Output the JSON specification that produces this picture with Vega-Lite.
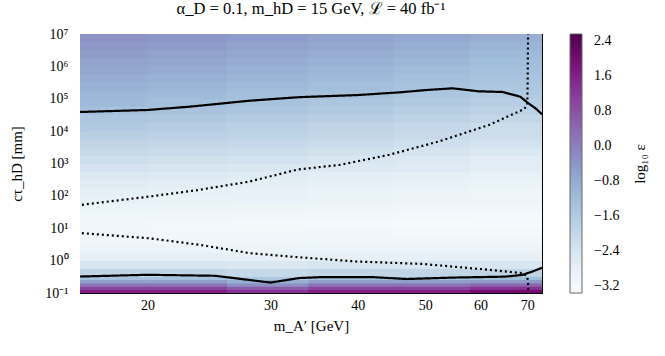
{
  "$schema": "https://vega.github.io/schema/vega-lite/v6.json",
  "width": 462,
  "height": 259,
  "autosize": {"type": "none"},
  "padding": {"left": 80, "top": 34, "right": 123, "bottom": 63},
  "background": "white",
  "title": {"text": "α_D = 0.1, m_hD = 15 GeV, ℒ = 40 fb⁻¹", "font": "Liberation Serif", "fontSize": 16.5, "fontWeight": "normal", "anchor": "middle", "offset": 10, "frame": "group", "color": "black"},
  "config": {
    "view": {"stroke": "black", "strokeWidth": 1},
    "axis": {"labelFont": "Liberation Serif", "labelFontSize": 14, "labelColor": "black", "tickColor": "black", "domainColor": "black", "titleFont": "Liberation Serif", "titleFontSize": 15, "titleFontWeight": "normal", "titleColor": "black", "grid": false, "zindex": 1, "labelOverlap": false, "labelBound": false, "labelFlush": false}
  },
  "datasets": {
    "cells": [
        {"m0":16,"m1":20,"t0":0.1,"t1":0.1259,"e":1.6},{"m0":20,"m1":26,"t0":0.1,"t1":0.1259,"e":1.6},{"m0":26,"m1":34,"t0":0.1,"t1":0.1259,"e":1.3},{"m0":34,"m1":45,"t0":0.1,"t1":0.1259,"e":1.6},{"m0":45,"m1":58,"t0":0.1,"t1":0.1259,"e":1.6},{"m0":58,"m1":73.5,"t0":0.1,"t1":0.1259,"e":2.0},
        {"m0":16,"m1":20,"t0":0.1259,"t1":0.1585,"e":1.0},{"m0":20,"m1":26,"t0":0.1259,"t1":0.1585,"e":1.0},{"m0":26,"m1":34,"t0":0.1259,"t1":0.1585,"e":0.6},{"m0":34,"m1":45,"t0":0.1259,"t1":0.1585,"e":1.0},{"m0":45,"m1":58,"t0":0.1259,"t1":0.1585,"e":1.0},{"m0":58,"m1":73.5,"t0":0.1259,"t1":0.1585,"e":1.3},
        {"m0":16,"m1":20,"t0":0.1585,"t1":0.1995,"e":0.2},{"m0":20,"m1":26,"t0":0.1585,"t1":0.1995,"e":0.2},{"m0":26,"m1":34,"t0":0.1585,"t1":0.1995,"e":-0.3},{"m0":34,"m1":45,"t0":0.1585,"t1":0.1995,"e":0.2},{"m0":45,"m1":58,"t0":0.1585,"t1":0.1995,"e":0.2},{"m0":58,"m1":73.5,"t0":0.1585,"t1":0.1995,"e":0.4},
        {"m0":16,"m1":20,"t0":0.1995,"t1":0.2512,"e":-0.6},{"m0":20,"m1":26,"t0":0.1995,"t1":0.2512,"e":-0.6},{"m0":26,"m1":34,"t0":0.1995,"t1":0.2512,"e":-0.9},{"m0":34,"m1":45,"t0":0.1995,"t1":0.2512,"e":-0.6},{"m0":45,"m1":58,"t0":0.1995,"t1":0.2512,"e":-0.6},{"m0":58,"m1":73.5,"t0":0.1995,"t1":0.2512,"e":-0.5},
        {"m0":16,"m1":20,"t0":0.2512,"t1":0.3162,"e":-1.3},{"m0":20,"m1":26,"t0":0.2512,"t1":0.3162,"e":-1.3},{"m0":26,"m1":34,"t0":0.2512,"t1":0.3162,"e":-1.5},{"m0":34,"m1":45,"t0":0.2512,"t1":0.3162,"e":-1.3},{"m0":45,"m1":58,"t0":0.2512,"t1":0.3162,"e":-1.3},{"m0":58,"m1":73.5,"t0":0.2512,"t1":0.3162,"e":-1.2},
        {"m0":16,"m1":20,"t0":0.3162,"t1":0.5623,"e":-1.95},{"m0":20,"m1":26,"t0":0.3162,"t1":0.5623,"e":-1.95},{"m0":26,"m1":34,"t0":0.3162,"t1":0.5623,"e":-2.05},{"m0":34,"m1":45,"t0":0.3162,"t1":0.5623,"e":-1.95},{"m0":45,"m1":58,"t0":0.3162,"t1":0.5623,"e":-1.95},{"m0":58,"m1":73.5,"t0":0.3162,"t1":0.5623,"e":-1.9},
        {"m0":16,"m1":20,"t0":0.5623,"t1":1,"e":-2.45},{"m0":20,"m1":26,"t0":0.5623,"t1":1,"e":-2.45},{"m0":26,"m1":34,"t0":0.5623,"t1":1,"e":-2.5},{"m0":34,"m1":45,"t0":0.5623,"t1":1,"e":-2.45},{"m0":45,"m1":58,"t0":0.5623,"t1":1,"e":-2.45},{"m0":58,"m1":73.5,"t0":0.5623,"t1":1,"e":-2.45},
        {"m0":16,"m1":20,"t0":1,"t1":1.778,"e":-2.8},{"m0":20,"m1":26,"t0":1,"t1":1.778,"e":-2.8},{"m0":26,"m1":34,"t0":1,"t1":1.778,"e":-2.8},{"m0":34,"m1":45,"t0":1,"t1":1.778,"e":-2.8},{"m0":45,"m1":58,"t0":1,"t1":1.778,"e":-2.8},{"m0":58,"m1":73.5,"t0":1,"t1":1.778,"e":-2.8},
        {"m0":16,"m1":20,"t0":1.778,"t1":3.162,"e":-3.0},{"m0":20,"m1":26,"t0":1.778,"t1":3.162,"e":-3.0},{"m0":26,"m1":34,"t0":1.778,"t1":3.162,"e":-3.0},{"m0":34,"m1":45,"t0":1.778,"t1":3.162,"e":-3.0},{"m0":45,"m1":58,"t0":1.778,"t1":3.162,"e":-3.0},{"m0":58,"m1":73.5,"t0":1.778,"t1":3.162,"e":-3.0},
        {"m0":16,"m1":20,"t0":3.162,"t1":5.623,"e":-3.12},{"m0":20,"m1":26,"t0":3.162,"t1":5.623,"e":-3.12},{"m0":26,"m1":34,"t0":3.162,"t1":5.623,"e":-3.12},{"m0":34,"m1":45,"t0":3.162,"t1":5.623,"e":-3.12},{"m0":45,"m1":58,"t0":3.162,"t1":5.623,"e":-3.12},{"m0":58,"m1":73.5,"t0":3.162,"t1":5.623,"e":-3.12},
        {"m0":16,"m1":20,"t0":5.623,"t1":10,"e":-3.18},{"m0":20,"m1":26,"t0":5.623,"t1":10,"e":-3.18},{"m0":26,"m1":34,"t0":5.623,"t1":10,"e":-3.18},{"m0":34,"m1":45,"t0":5.623,"t1":10,"e":-3.18},{"m0":45,"m1":58,"t0":5.623,"t1":10,"e":-3.2},{"m0":58,"m1":73.5,"t0":5.623,"t1":10,"e":-3.22},
        {"m0":16,"m1":20,"t0":10,"t1":17.78,"e":-3.15},{"m0":20,"m1":26,"t0":10,"t1":17.78,"e":-3.17},{"m0":26,"m1":34,"t0":10,"t1":17.78,"e":-3.2},{"m0":34,"m1":45,"t0":10,"t1":17.78,"e":-3.24},{"m0":45,"m1":58,"t0":10,"t1":17.78,"e":-3.28},{"m0":58,"m1":73.5,"t0":10,"t1":17.78,"e":-3.3},
        {"m0":16,"m1":20,"t0":17.78,"t1":31.62,"e":-3.08},{"m0":20,"m1":26,"t0":17.78,"t1":31.62,"e":-3.1},{"m0":26,"m1":34,"t0":17.78,"t1":31.62,"e":-3.13},{"m0":34,"m1":45,"t0":17.78,"t1":31.62,"e":-3.17},{"m0":45,"m1":58,"t0":17.78,"t1":31.62,"e":-3.21},{"m0":58,"m1":73.5,"t0":17.78,"t1":31.62,"e":-3.24},
        {"m0":16,"m1":20,"t0":31.62,"t1":56.23,"e":-2.98},{"m0":20,"m1":26,"t0":31.62,"t1":56.23,"e":-3.0},{"m0":26,"m1":34,"t0":31.62,"t1":56.23,"e":-3.03},{"m0":34,"m1":45,"t0":31.62,"t1":56.23,"e":-3.07},{"m0":45,"m1":58,"t0":31.62,"t1":56.23,"e":-3.11},{"m0":58,"m1":73.5,"t0":31.62,"t1":56.23,"e":-3.14},
        {"m0":16,"m1":20,"t0":56.23,"t1":100,"e":-2.87},{"m0":20,"m1":26,"t0":56.23,"t1":100,"e":-2.89},{"m0":26,"m1":34,"t0":56.23,"t1":100,"e":-2.92},{"m0":34,"m1":45,"t0":56.23,"t1":100,"e":-2.96},{"m0":45,"m1":58,"t0":56.23,"t1":100,"e":-3.0},{"m0":58,"m1":73.5,"t0":56.23,"t1":100,"e":-3.03},
        {"m0":16,"m1":20,"t0":100,"t1":177.8,"e":-2.75},{"m0":20,"m1":26,"t0":100,"t1":177.8,"e":-2.8},{"m0":26,"m1":34,"t0":100,"t1":177.8,"e":-2.86},{"m0":34,"m1":45,"t0":100,"t1":177.8,"e":-2.93},{"m0":45,"m1":58,"t0":100,"t1":177.8,"e":-3.0},{"m0":58,"m1":73.5,"t0":100,"t1":177.8,"e":-3.08},
        {"m0":16,"m1":20,"t0":177.8,"t1":316.2,"e":-2.62},{"m0":20,"m1":26,"t0":177.8,"t1":316.2,"e":-2.67},{"m0":26,"m1":34,"t0":177.8,"t1":316.2,"e":-2.73},{"m0":34,"m1":45,"t0":177.8,"t1":316.2,"e":-2.8},{"m0":45,"m1":58,"t0":177.8,"t1":316.2,"e":-2.87},{"m0":58,"m1":73.5,"t0":177.8,"t1":316.2,"e":-2.95},
        {"m0":16,"m1":20,"t0":316.2,"t1":562.3,"e":-2.5},{"m0":20,"m1":26,"t0":316.2,"t1":562.3,"e":-2.55},{"m0":26,"m1":34,"t0":316.2,"t1":562.3,"e":-2.61},{"m0":34,"m1":45,"t0":316.2,"t1":562.3,"e":-2.68},{"m0":45,"m1":58,"t0":316.2,"t1":562.3,"e":-2.75},{"m0":58,"m1":73.5,"t0":316.2,"t1":562.3,"e":-2.83},
        {"m0":16,"m1":20,"t0":562.3,"t1":1000,"e":-2.35},{"m0":20,"m1":26,"t0":562.3,"t1":1000,"e":-2.4},{"m0":26,"m1":34,"t0":562.3,"t1":1000,"e":-2.46},{"m0":34,"m1":45,"t0":562.3,"t1":1000,"e":-2.53},{"m0":45,"m1":58,"t0":562.3,"t1":1000,"e":-2.6},{"m0":58,"m1":73.5,"t0":562.3,"t1":1000,"e":-2.68},
        {"m0":16,"m1":20,"t0":1000,"t1":1778,"e":-2.2},{"m0":20,"m1":26,"t0":1000,"t1":1778,"e":-2.26},{"m0":26,"m1":34,"t0":1000,"t1":1778,"e":-2.34},{"m0":34,"m1":45,"t0":1000,"t1":1778,"e":-2.44},{"m0":45,"m1":58,"t0":1000,"t1":1778,"e":-2.54},{"m0":58,"m1":73.5,"t0":1000,"t1":1778,"e":-2.64},
        {"m0":16,"m1":20,"t0":1778,"t1":3162,"e":-2.05},{"m0":20,"m1":26,"t0":1778,"t1":3162,"e":-2.11},{"m0":26,"m1":34,"t0":1778,"t1":3162,"e":-2.19},{"m0":34,"m1":45,"t0":1778,"t1":3162,"e":-2.29},{"m0":45,"m1":58,"t0":1778,"t1":3162,"e":-2.39},{"m0":58,"m1":73.5,"t0":1778,"t1":3162,"e":-2.49},
        {"m0":16,"m1":20,"t0":3162,"t1":5623,"e":-1.9},{"m0":20,"m1":26,"t0":3162,"t1":5623,"e":-1.96},{"m0":26,"m1":34,"t0":3162,"t1":5623,"e":-2.04},{"m0":34,"m1":45,"t0":3162,"t1":5623,"e":-2.14},{"m0":45,"m1":58,"t0":3162,"t1":5623,"e":-2.24},{"m0":58,"m1":73.5,"t0":3162,"t1":5623,"e":-2.34},
        {"m0":16,"m1":20,"t0":5623,"t1":10000,"e":-1.75},{"m0":20,"m1":26,"t0":5623,"t1":10000,"e":-1.81},{"m0":26,"m1":34,"t0":5623,"t1":10000,"e":-1.89},{"m0":34,"m1":45,"t0":5623,"t1":10000,"e":-1.99},{"m0":45,"m1":58,"t0":5623,"t1":10000,"e":-2.09},{"m0":58,"m1":73.5,"t0":5623,"t1":10000,"e":-2.19},
        {"m0":16,"m1":20,"t0":10000,"t1":17783,"e":-1.6},{"m0":20,"m1":26,"t0":10000,"t1":17783,"e":-1.68},{"m0":26,"m1":34,"t0":10000,"t1":17783,"e":-1.78},{"m0":34,"m1":45,"t0":10000,"t1":17783,"e":-1.9},{"m0":45,"m1":58,"t0":10000,"t1":17783,"e":-2.02},{"m0":58,"m1":73.5,"t0":10000,"t1":17783,"e":-2.15},
        {"m0":16,"m1":20,"t0":17783,"t1":31623,"e":-1.45},{"m0":20,"m1":26,"t0":17783,"t1":31623,"e":-1.53},{"m0":26,"m1":34,"t0":17783,"t1":31623,"e":-1.63},{"m0":34,"m1":45,"t0":17783,"t1":31623,"e":-1.75},{"m0":45,"m1":58,"t0":17783,"t1":31623,"e":-1.87},{"m0":58,"m1":73.5,"t0":17783,"t1":31623,"e":-2.0},
        {"m0":16,"m1":20,"t0":31623,"t1":56234,"e":-1.3},{"m0":20,"m1":26,"t0":31623,"t1":56234,"e":-1.38},{"m0":26,"m1":34,"t0":31623,"t1":56234,"e":-1.48},{"m0":34,"m1":45,"t0":31623,"t1":56234,"e":-1.6},{"m0":45,"m1":58,"t0":31623,"t1":56234,"e":-1.72},{"m0":58,"m1":73.5,"t0":31623,"t1":56234,"e":-1.85},
        {"m0":16,"m1":20,"t0":56234,"t1":100000,"e":-1.15},{"m0":20,"m1":26,"t0":56234,"t1":100000,"e":-1.23},{"m0":26,"m1":34,"t0":56234,"t1":100000,"e":-1.33},{"m0":34,"m1":45,"t0":56234,"t1":100000,"e":-1.45},{"m0":45,"m1":58,"t0":56234,"t1":100000,"e":-1.57},{"m0":58,"m1":73.5,"t0":56234,"t1":100000,"e":-1.7},
        {"m0":16,"m1":20,"t0":100000,"t1":177828,"e":-1.05},{"m0":20,"m1":26,"t0":100000,"t1":177828,"e":-1.13},{"m0":26,"m1":34,"t0":100000,"t1":177828,"e":-1.23},{"m0":34,"m1":45,"t0":100000,"t1":177828,"e":-1.35},{"m0":45,"m1":58,"t0":100000,"t1":177828,"e":-1.47},{"m0":58,"m1":73.5,"t0":100000,"t1":177828,"e":-1.6},
        {"m0":16,"m1":20,"t0":177828,"t1":316228,"e":-0.95},{"m0":20,"m1":26,"t0":177828,"t1":316228,"e":-1.03},{"m0":26,"m1":34,"t0":177828,"t1":316228,"e":-1.13},{"m0":34,"m1":45,"t0":177828,"t1":316228,"e":-1.25},{"m0":45,"m1":58,"t0":177828,"t1":316228,"e":-1.37},{"m0":58,"m1":73.5,"t0":177828,"t1":316228,"e":-1.5},
        {"m0":16,"m1":20,"t0":316228,"t1":562341,"e":-0.85},{"m0":20,"m1":26,"t0":316228,"t1":562341,"e":-0.93},{"m0":26,"m1":34,"t0":316228,"t1":562341,"e":-1.03},{"m0":34,"m1":45,"t0":316228,"t1":562341,"e":-1.15},{"m0":45,"m1":58,"t0":316228,"t1":562341,"e":-1.27},{"m0":58,"m1":73.5,"t0":316228,"t1":562341,"e":-1.4},
        {"m0":16,"m1":20,"t0":562341,"t1":1000000,"e":-0.75},{"m0":20,"m1":26,"t0":562341,"t1":1000000,"e":-0.83},{"m0":26,"m1":34,"t0":562341,"t1":1000000,"e":-0.93},{"m0":34,"m1":45,"t0":562341,"t1":1000000,"e":-1.05},{"m0":45,"m1":58,"t0":562341,"t1":1000000,"e":-1.17},{"m0":58,"m1":73.5,"t0":562341,"t1":1000000,"e":-1.3},
        {"m0":16,"m1":20,"t0":1000000,"t1":1778279,"e":-0.65},{"m0":20,"m1":26,"t0":1000000,"t1":1778279,"e":-0.73},{"m0":26,"m1":34,"t0":1000000,"t1":1778279,"e":-0.83},{"m0":34,"m1":45,"t0":1000000,"t1":1778279,"e":-0.95},{"m0":45,"m1":58,"t0":1000000,"t1":1778279,"e":-1.07},{"m0":58,"m1":73.5,"t0":1000000,"t1":1778279,"e":-1.2},
        {"m0":16,"m1":20,"t0":1778279,"t1":3162278,"e":-0.55},{"m0":20,"m1":26,"t0":1778279,"t1":3162278,"e":-0.63},{"m0":26,"m1":34,"t0":1778279,"t1":3162278,"e":-0.73},{"m0":34,"m1":45,"t0":1778279,"t1":3162278,"e":-0.85},{"m0":45,"m1":58,"t0":1778279,"t1":3162278,"e":-0.97},{"m0":58,"m1":73.5,"t0":1778279,"t1":3162278,"e":-1.1},
        {"m0":16,"m1":20,"t0":3162278,"t1":5623413,"e":-0.45},{"m0":20,"m1":26,"t0":3162278,"t1":5623413,"e":-0.53},{"m0":26,"m1":34,"t0":3162278,"t1":5623413,"e":-0.63},{"m0":34,"m1":45,"t0":3162278,"t1":5623413,"e":-0.75},{"m0":45,"m1":58,"t0":3162278,"t1":5623413,"e":-0.87},{"m0":58,"m1":73.5,"t0":3162278,"t1":5623413,"e":-1.0},
        {"m0":16,"m1":20,"t0":5623413,"t1":10000000,"e":-0.35},{"m0":20,"m1":26,"t0":5623413,"t1":10000000,"e":-0.43},{"m0":26,"m1":34,"t0":5623413,"t1":10000000,"e":-0.53},{"m0":34,"m1":45,"t0":5623413,"t1":10000000,"e":-0.65},{"m0":45,"m1":58,"t0":5623413,"t1":10000000,"e":-0.77},{"m0":58,"m1":73.5,"t0":5623413,"t1":10000000,"e":-0.9}
    ]
  },
  "layer": [
    {
      "data": {"name": "cells"},
      "mark": {"type": "rect", "filled": false, "strokeWidth": 1.2, "clip": true},
      "encoding": {
        "x": {"field": "m0", "type": "quantitative", "scale": {"type": "log", "domain": [16, 73.5], "nice": false, "zero": false}, "axis": null},
        "x2": {"field": "m1"},
        "y": {"field": "t0", "type": "quantitative", "scale": {"type": "log", "domain": [0.1, 10000000], "nice": false, "zero": false}, "axis": null},
        "y2": {"field": "t1"},
        "stroke": {"field": "e", "type": "quantitative",
                   "scale": {"type": "linear", "domain": [-3.361, -2.622, -1.884, -1.145, -0.406, 0.333, 1.072, 1.81, 2.549],
                             "range": ["#f7fcfd", "#e0ecf4", "#bfd3e6", "#9ebcda", "#8c96c6", "#8c6bb1", "#88419d", "#810f7c", "#4d004b"], "interpolate": "rgb"},
                   "legend": null}
      }
    },
    {
      "data": {"name": "cells"},
      "mark": {"type": "rect"},
      "encoding": {
        "x": {"field": "m0", "type": "quantitative", "scale": {"type": "log", "domain": [16, 73.5], "nice": false, "zero": false},
              "axis": {"orient": "bottom", "values": [20, 30, 40, 50, 60, 70], "format": "d", "tickSize": -6, "labelPadding": 11, "title": "m_A′ [GeV]", "titlePadding": 6}},
        "x2": {"field": "m1"},
        "y": {"field": "t0", "type": "quantitative", "scale": {"type": "log", "domain": [0.1, 10000000], "nice": false, "zero": false},
              "axis": {"orient": "left",
                       "values": [0.1,0.2,0.3,0.4,0.5,0.6,0.7,0.8,0.9,1,2,3,4,5,6,7,8,9,10,20,30,40,50,60,70,80,90,100,200,300,400,500,600,700,800,900,1000,2000,3000,4000,5000,6000,7000,8000,9000,10000,20000,30000,40000,50000,60000,70000,80000,90000,100000,200000,300000,400000,500000,600000,700000,800000,900000,1000000,2000000,3000000,4000000,5000000,6000000,7000000,8000000,9000000,10000000],
                       "labelExpr": "abs(log(datum.value)/LN10 - round(log(datum.value)/LN10)) < 0.001 ? '10' + ['⁻¹','⁰','¹','²','³','⁴','⁵','⁶','⁷'][round(log(datum.value)/LN10)+1] : ''",
                       "tickSize": {"condition": {"test": "abs(log(datum.value)/LN10 - round(log(datum.value)/LN10)) < 0.001", "value": -6}, "value": -3},
                       "labelPadding": 18, "title": "cτ_hD [mm]", "titlePadding": 20}},
        "y2": {"field": "t1"},
        "fill": {"field": "e", "type": "quantitative",
                 "scale": {"type": "linear", "domain": [-3.36, -2.621, -1.883, -1.144, -0.405, 0.334, 1.073, 1.811, 2.55],
                           "range": ["#f7fcfd", "#e0ecf4", "#bfd3e6", "#9ebcda", "#8c96c6", "#8c6bb1", "#88419d", "#810f7c", "#4d004b"], "interpolate": "rgb"},
                 "legend": {"type": "gradient", "orient": "none", "legendX": 490, "legendY": 0, "direction": "vertical", "gradientLength": 259, "gradientThickness": 12,
                            "values": [2.4, 1.6, 0.8, 0, -0.8, -1.6, -2.4, -3.2],
                            "labelExpr": "replace(format(datum.value, '.1f'), '-', '−')",
                            "labelFont": "Liberation Serif", "labelFontSize": 14, "labelColor": "black", "labelOffset": 12, "labelOverlap": false,
                            "title": "log₁₀ ε", "titleOrient": "right", "titleAnchor": "middle",
                            "titleFont": "Liberation Serif", "titleFontSize": 15, "titleFontWeight": "normal", "titleColor": "black", "titlePadding": 14,
                            "gradientStrokeColor": "#666666", "gradientStrokeWidth": 1,
                            "encode": {"title": {"update": {"angle": {"value": 270}, "baseline": {"value": "top"}}}}}}
      }
    },
    {
      "data": {"values": [
        {"curve":"upper solid","kind":"solid","i":1,"m":16,"t":39000},
        {"curve":"upper solid","kind":"solid","i":2,"m":20,"t":45000},
        {"curve":"upper solid","kind":"solid","i":3,"m":23,"t":57000},
        {"curve":"upper solid","kind":"solid","i":4,"m":28,"t":87000},
        {"curve":"upper solid","kind":"solid","i":5,"m":33,"t":112000},
        {"curve":"upper solid","kind":"solid","i":6,"m":40,"t":130000},
        {"curve":"upper solid","kind":"solid","i":7,"m":46,"t":158000},
        {"curve":"upper solid","kind":"solid","i":8,"m":50,"t":185000},
        {"curve":"upper solid","kind":"solid","i":9,"m":54.7,"t":210000},
        {"curve":"upper solid","kind":"solid","i":10,"m":59.6,"t":170000},
        {"curve":"upper solid","kind":"solid","i":11,"m":64.5,"t":162000},
        {"curve":"upper solid","kind":"solid","i":12,"m":68.4,"t":116000},
        {"curve":"upper solid","kind":"solid","i":13,"m":70.3,"t":72000},
        {"curve":"upper solid","kind":"solid","i":14,"m":72,"t":50000},
        {"curve":"upper solid","kind":"solid","i":15,"m":73.5,"t":33000},
        {"curve":"lower solid","kind":"solid","i":1,"m":16,"t":0.323},
        {"curve":"lower solid","kind":"solid","i":2,"m":20,"t":0.365},
        {"curve":"lower solid","kind":"solid","i":3,"m":25,"t":0.34},
        {"curve":"lower solid","kind":"solid","i":4,"m":30,"t":0.21},
        {"curve":"lower solid","kind":"solid","i":5,"m":33,"t":0.29},
        {"curve":"lower solid","kind":"solid","i":6,"m":35.6,"t":0.31},
        {"curve":"lower solid","kind":"solid","i":7,"m":42,"t":0.31},
        {"curve":"lower solid","kind":"solid","i":8,"m":47,"t":0.27},
        {"curve":"lower solid","kind":"solid","i":9,"m":55,"t":0.3},
        {"curve":"lower solid","kind":"solid","i":10,"m":65,"t":0.32},
        {"curve":"lower solid","kind":"solid","i":11,"m":68.8,"t":0.36},
        {"curve":"lower solid","kind":"solid","i":12,"m":71,"t":0.45},
        {"curve":"lower solid","kind":"solid","i":13,"m":73.5,"t":0.6},
        {"curve":"upper dotted","kind":"dotted","i":1,"m":16.1,"t":53},
        {"curve":"upper dotted","kind":"dotted","i":2,"m":20.1,"t":95},
        {"curve":"upper dotted","kind":"dotted","i":3,"m":23.7,"t":153},
        {"curve":"upper dotted","kind":"dotted","i":4,"m":28,"t":277},
        {"curve":"upper dotted","kind":"dotted","i":5,"m":32.8,"t":650},
        {"curve":"upper dotted","kind":"dotted","i":6,"m":37.7,"t":906},
        {"curve":"upper dotted","kind":"dotted","i":7,"m":44.4,"t":1860},
        {"curve":"upper dotted","kind":"dotted","i":8,"m":52.3,"t":4800},
        {"curve":"upper dotted","kind":"dotted","i":9,"m":61.7,"t":15500},
        {"curve":"upper dotted","kind":"dotted","i":10,"m":69.3,"t":48000},
        {"curve":"upper dotted","kind":"dotted","i":11,"m":70,"t":65000},
        {"curve":"upper dotted","kind":"dotted","i":12,"m":70.1,"t":300000},
        {"curve":"upper dotted","kind":"dotted","i":13,"m":70.2,"t":10000000},
        {"curve":"lower dotted","kind":"dotted","i":1,"m":16.1,"t":7.06},
        {"curve":"lower dotted","kind":"dotted","i":2,"m":20.1,"t":4.9},
        {"curve":"lower dotted","kind":"dotted","i":3,"m":23.7,"t":3.1},
        {"curve":"lower dotted","kind":"dotted","i":4,"m":28,"t":1.7},
        {"curve":"lower dotted","kind":"dotted","i":5,"m":32.8,"t":1.28},
        {"curve":"lower dotted","kind":"dotted","i":6,"m":39.8,"t":0.94},
        {"curve":"lower dotted","kind":"dotted","i":7,"m":49.5,"t":0.79},
        {"curve":"lower dotted","kind":"dotted","i":8,"m":61.7,"t":0.52},
        {"curve":"lower dotted","kind":"dotted","i":9,"m":68.8,"t":0.41},
        {"curve":"lower dotted","kind":"dotted","i":10,"m":70,"t":0.33},
        {"curve":"lower dotted","kind":"dotted","i":11,"m":70.2,"t":0.2},
        {"curve":"lower dotted","kind":"dotted","i":12,"m":70.3,"t":0.1}
      ]},
      "mark": {"type": "line", "color": "black", "strokeWidth": 2.2, "clip": true, "strokeCap": "butt"},
      "encoding": {
        "x": {"field": "m", "type": "quantitative", "scale": {"type": "log", "domain": [16, 73.5], "nice": false, "zero": false},
              "axis": {"orient": "top", "values": [20, 30, 40, 50, 60, 70], "labels": false, "tickSize": -6, "title": null}},
        "y": {"field": "t", "type": "quantitative", "scale": {"type": "log", "domain": [0.1, 10000000], "nice": false, "zero": false},
              "axis": {"orient": "right",
                       "values": [0.1,0.2,0.3,0.4,0.5,0.6,0.7,0.8,0.9,1,2,3,4,5,6,7,8,9,10,20,30,40,50,60,70,80,90,100,200,300,400,500,600,700,800,900,1000,2000,3000,4000,5000,6000,7000,8000,9000,10000,20000,30000,40000,50000,60000,70000,80000,90000,100000,200000,300000,400000,500000,600000,700000,800000,900000,1000000,2000000,3000000,4000000,5000000,6000000,7000000,8000000,9000000,10000000],
                       "labels": false,
                       "tickSize": {"condition": {"test": "abs(log(datum.value)/LN10 - round(log(datum.value)/LN10)) < 0.001", "value": -6}, "value": -3},
                       "title": null}},
        "detail": {"field": "curve"},
        "order": {"field": "i", "type": "quantitative"},
        "strokeDash": {"field": "kind", "type": "nominal", "scale": {"domain": ["solid", "dotted"], "range": [[1, 0], [2, 3]]}, "legend": null}
      }
    }
  ],
  "resolve": {"axis": {"x": "independent", "y": "independent"}}
}
